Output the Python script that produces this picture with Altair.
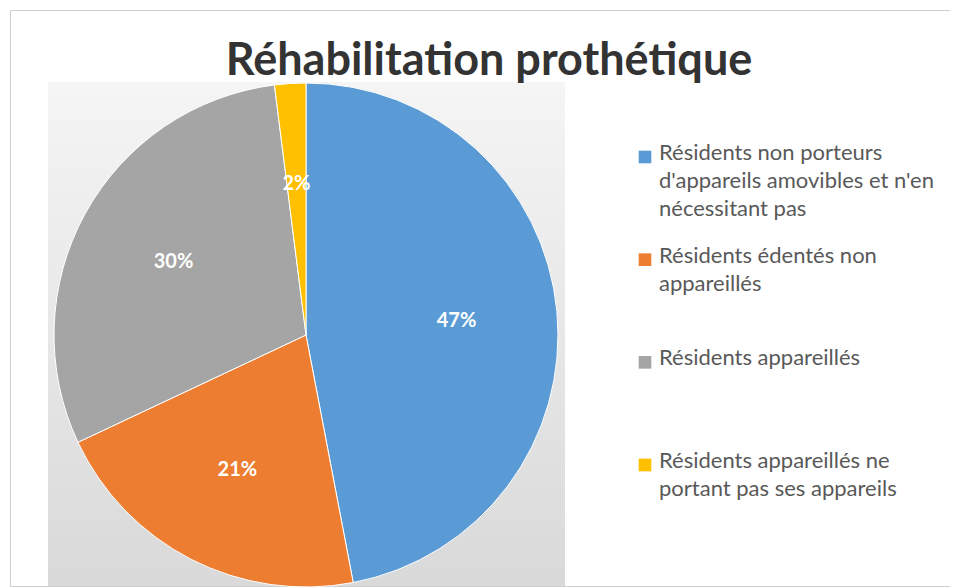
import altair as alt
import pandas as pd

title = "Réhabilitation prothétique"
categories = [
    "Résidents non porteurs d'appareils amovibles et n'en nécessitant pas",
    "Résidents édentés non appareillés",
    "Résidents appareillés",
    "Résidents appareillés ne portant pas ses appareils",
]
legend_labels = [
    "Résidents non porteurs\nd'appareils amovibles et n'en\nnécessitant pas",
    "Résidents édentés non\nappareillés",
    "Résidents appareillés",
    "Résidents appareillés ne\nportant pas ses appareils",
]
values = [47, 21, 30, 2]
colors = ["#5B9BD5", "#ED7D31", "#A5A5A5", "#FFC000"]

df = pd.DataFrame({
    "cat": categories,
    "legend": legend_labels,
    "value": values,
    "order": list(range(len(values))),
    "pct": [f"{v}%" for v in values],
})

FONT = "Lato"
cx, cy, R = 296, 325, 252

color = alt.Color("cat:N", scale=alt.Scale(domain=categories, range=colors), legend=None)

bg = alt.Chart(pd.DataFrame({"a": [0]})).mark_rect(
    color=alt.Gradient(gradient="linear",
                       stops=[alt.GradientStop(color="#f5f5f5", offset=0),
                              alt.GradientStop(color="#d9d9d9", offset=1)],
                       x1=0, x2=0, y1=0, y2=1)
).encode(x=alt.value(38), x2=alt.value(555), y=alt.value(72), y2=alt.value(576))

base = alt.Chart(df).encode(
    theta=alt.Theta("value:Q", stack=True),
    order=alt.Order("order:Q"),
)
pie = base.mark_arc(stroke="white", strokeWidth=1, radius=R).encode(
    color=color, x=alt.value(cx), y=alt.value(cy)
)
labels = base.mark_text(radius=R * 0.6, font=FONT, fontSize=20, fontWeight="bold",
                        color="white").encode(
    text="pct:N", x=alt.value(cx), y=alt.value(cy)
)

title_layer = alt.Chart(pd.DataFrame({"t": [title]})).mark_text(
    font=FONT, fontSize=45, fontWeight="bold", color="#333333"
).encode(text="t:N", x=alt.value(479), y=alt.value(51))

yscale = alt.Y("cat:N", scale=alt.Scale(domain=categories, range=[147, 455], padding=0), axis=None)
leg_sq = alt.Chart(df).mark_square(size=160, opacity=1).encode(
    x=alt.value(635), y=yscale, color=color
)
leg_txt = alt.Chart(df).mark_text(
    align="left", baseline="top", dy=-14, font=FONT, fontSize=22,
    lineBreak="\n", lineHeight=28, color="#595959"
).encode(x=alt.value(649), y=yscale, text="legend:N")

chart = alt.layer(bg, pie, labels, title_layer, leg_sq, leg_txt).properties(
    width=940, height=576,
    padding={"left": 2, "top": 2, "right": 0, "bottom": 0},
    background="white",
).configure_view(stroke="#d0d0d0", strokeWidth=1)

chart.save("out.html", embed_options={"renderer": "svg", "actions": False})
